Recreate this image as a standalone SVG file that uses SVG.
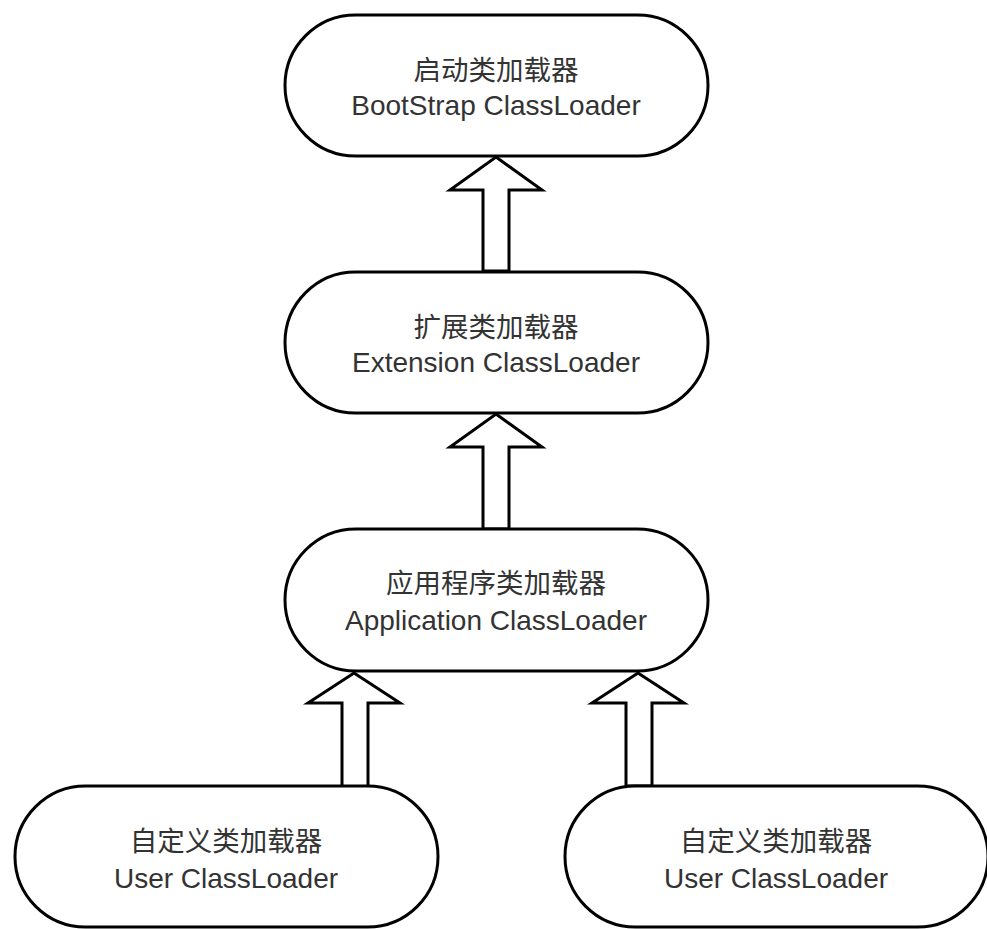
<svg xmlns="http://www.w3.org/2000/svg" width="987" height="929" viewBox="0 0 987 929">
<style>
.node{fill:#fff;stroke:#000;stroke-width:3}
.arrow{fill:#fff;stroke:#000;stroke-width:3;stroke-linejoin:miter}
.cn{font-family:"Liberation Sans","Noto Sans CJK SC",sans-serif;font-size:27.5px;fill:#333;text-anchor:middle}
.en{font-family:"Liberation Sans","Noto Sans CJK SC",sans-serif;font-size:28px;fill:#333;text-anchor:middle}
</style>
<rect width="987" height="929" fill="#fff"/>
<g id="connectors">
<polygon class="arrow" points="496,157 542,190 509,190 509,271 483,271 483,190 450,190"/>
<polygon class="arrow" points="496,414 542,447 509,447 509,529 483,529 483,447 450,447"/>
<polygon class="arrow" points="354,673 400,703 368,703 368,787 342,787 342,703 308,703"/>
<polygon class="arrow" points="638,673 684,703 652,703 652,786 626,786 626,703 592,703"/>
</g>
<g id="bootstrap">
<rect class="node" x="285" y="15" width="423" height="141" rx="70.5"/>
<text class="cn" x="496" y="80">启动类加载器</text>
<text class="en" x="496" y="115">BootStrap ClassLoader</text>
</g>
<g id="extension">
<rect class="node" x="285" y="272" width="423" height="141" rx="70.5"/>
<text class="cn" x="496" y="337">扩展类加载器</text>
<text class="en" x="496" y="372">Extension ClassLoader</text>
</g>
<g id="application">
<rect class="node" x="285" y="529" width="423" height="142" rx="71"/>
<text class="cn" x="496" y="593">应用程序类加载器</text>
<text class="en" x="496" y="630">Application ClassLoader</text>
</g>
<g id="user1">
<rect class="node" x="15" y="786" width="423" height="141" rx="70.5"/>
<text class="cn" x="226" y="851">自定义类加载器</text>
<text class="en" x="226" y="888">User ClassLoader</text>
</g>
<g id="user2">
<rect class="node" x="565" y="786" width="423" height="141" rx="70.5"/>
<text class="cn" x="776" y="851">自定义类加载器</text>
<text class="en" x="776" y="888">User ClassLoader</text>
</g>
</svg>
